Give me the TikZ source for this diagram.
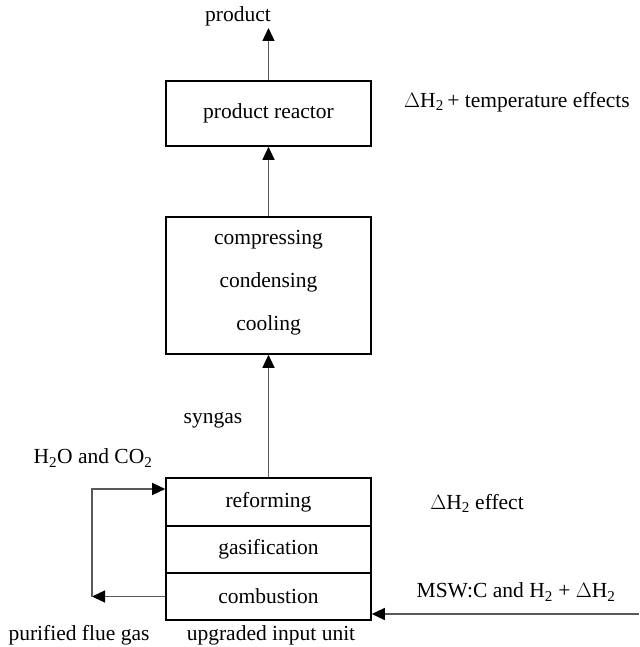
\documentclass[tikz,border=0pt]{standalone}
\usepackage{fontspec}
\setmainfont{Liberation Serif}
\usetikzlibrary{arrows.meta}
\newcommand{\sub}[1]{\textsubscript{#1}}
\begin{document}
\begin{tikzpicture}[x=1pt,y=-1pt,
  every node/.style={font=\fontsize{21.5}{26}\selectfont, inner sep=0pt},
  box/.style={draw=black, line width=1.6pt, minimum width=205pt},
  flow/.style={draw=black!65, line width=1.3pt, -{Triangle[length=13pt,width=12pt,color=black]}}]
\useasboundingbox (0,0) rectangle (639,647);
% boxes
\node[box, minimum height=65pt] (reactor) at (268.5,113.5) {product reactor};
\node[box, minimum height=137pt, align=center] (ccc) at (268.5,285.5) {};
\node at (268.5,240) {compressing};
\node at (268.5,282) {condensing};
\node at (268.5,325) {cooling};
\node[box, minimum height=48pt] (ref) at (268.5,502) {reforming};
\node[box, minimum height=47pt] (gas) at (268.5,549.5) {gasification};
\node[box, minimum height=47pt] (comb) at (268.5,596.5) {combustion};
% labels
\node (prod) at (238,16) {product};
\node (dht) at (517,102) {$\Delta$H\sub{2}\,+ temperature effects};
\node (syn) at (213,420) {syngas};
\node (hco) at (93,458) {H\sub{2}O and CO\sub{2}};
\node (dhe) at (477,503) {$\Delta$H\sub{2} effect};
\node (msw) at (516,592) {MSW:C and H\sub{2} + $\Delta$H\sub{2}};
\node (pfg) at (79,635) {purified flue gas};
\node (uiu) at (271,635) {upgraded input unit};
% coordinates
\coordinate (ptop) at (268.5,28);
\coordinate (loopb) at (92,596.5);
\coordinate (loopt) at (92,489);
\coordinate (inR) at (639,614);
% connectors
\draw[flow] (reactor.north) -- (ptop);
\draw[flow] (ccc.north) -- (reactor.south);
\draw[flow] (ref.north) -- (ccc.south);
\draw[flow] (comb.west) -- (loopb);
\draw[flow] (loopb) -- (loopt) -- (ref.west |- loopt);
\draw[flow] (inR) -- (comb.east |- inR);
\end{tikzpicture}
\end{document}
